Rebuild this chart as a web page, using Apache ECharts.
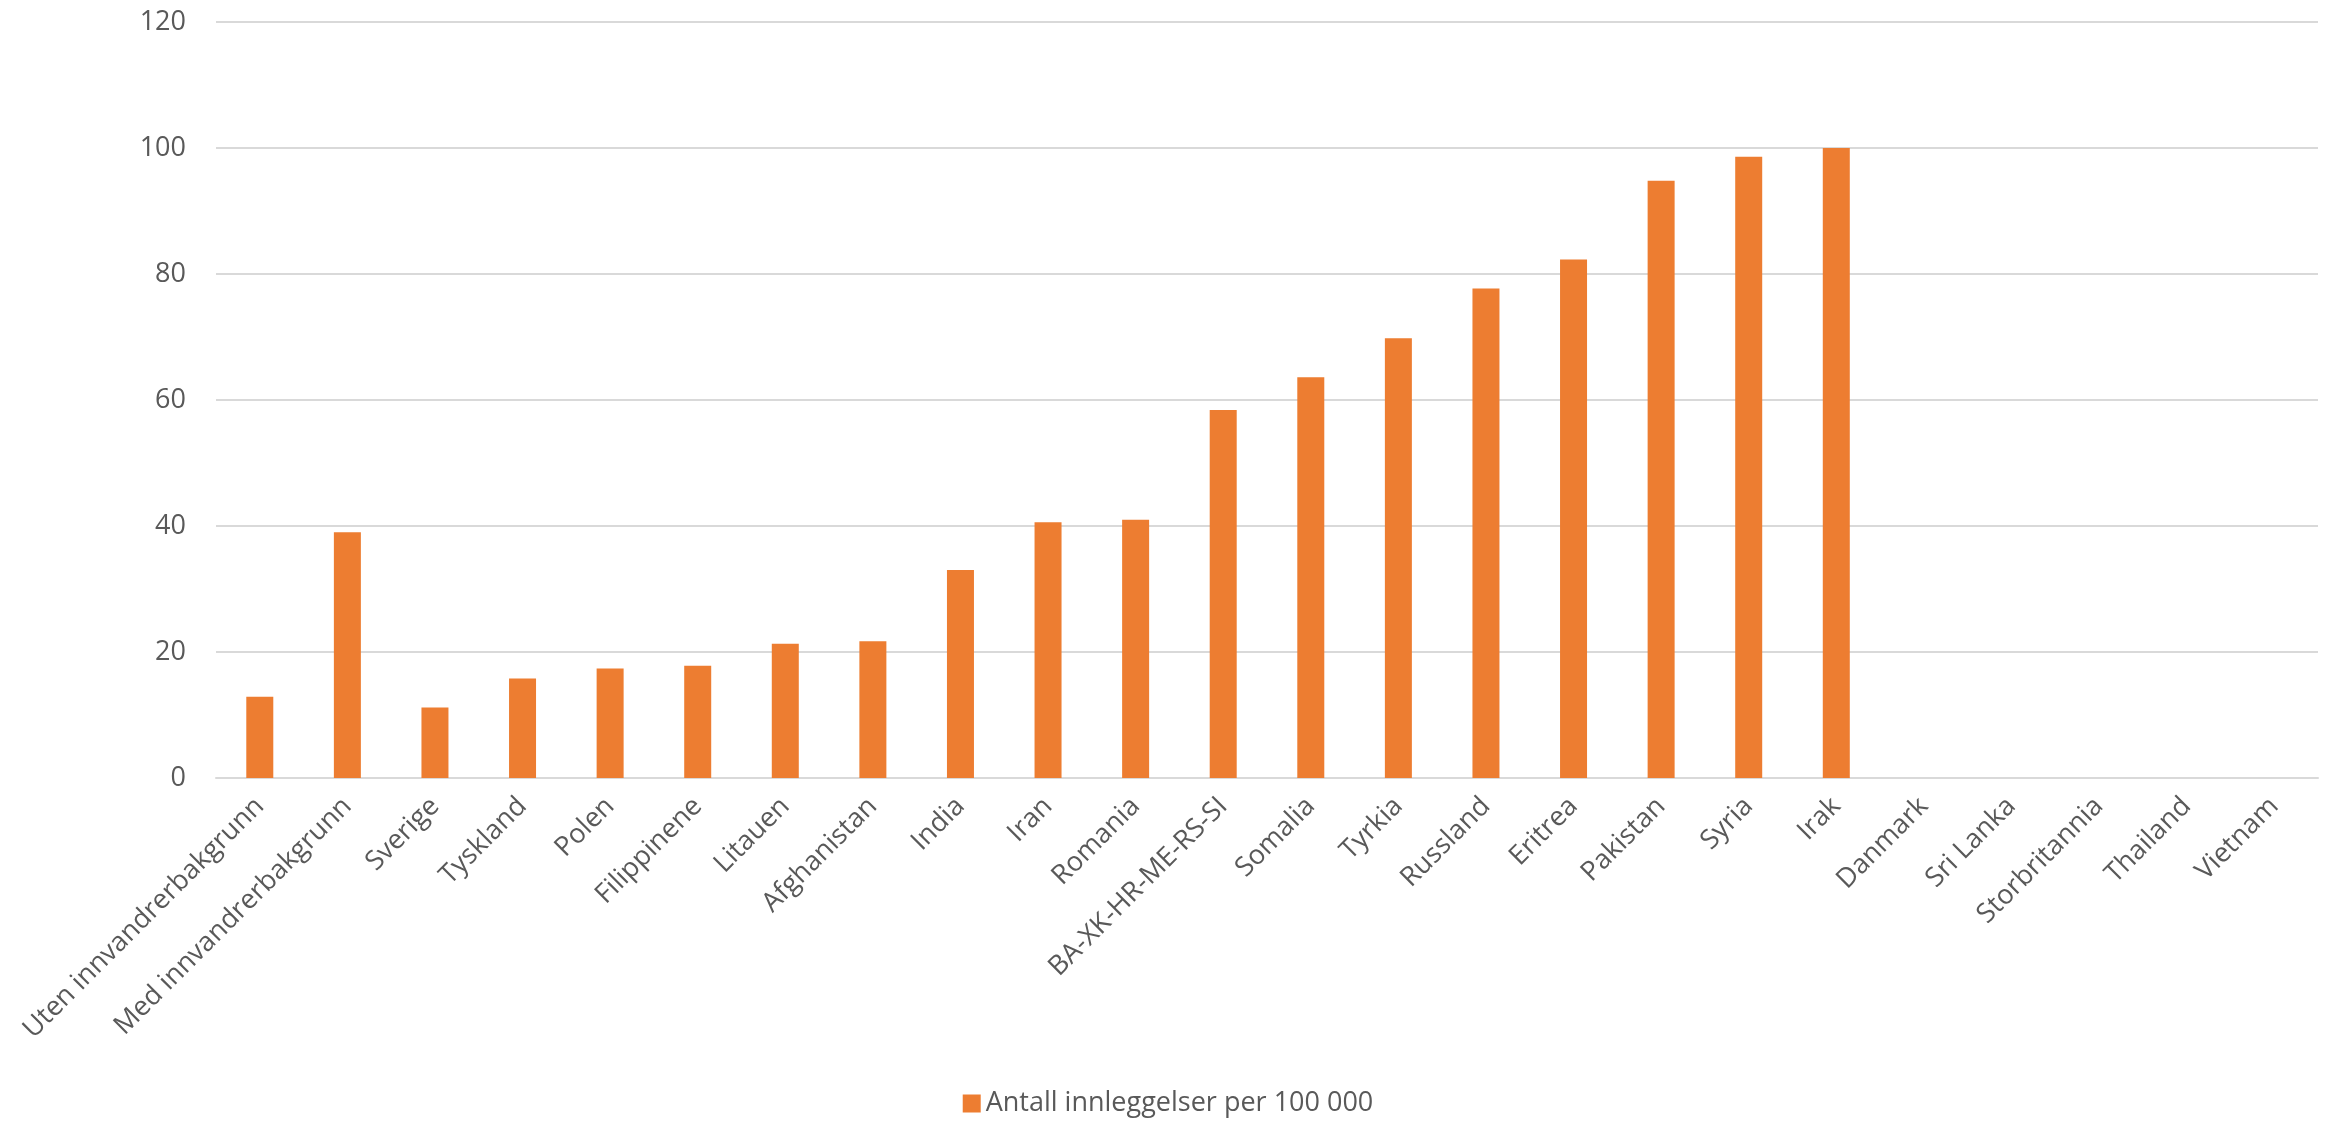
<!DOCTYPE html>
<html>
<head>
<meta charset="utf-8">
<script src="https://cdn.jsdelivr.net/npm/echarts@6/dist/echarts.min.js"></script>
<style>
html,body{margin:0;padding:0;background:#fff;}
#chart{width:2336px;height:1126px;}
</style>
</head>
<body>
<div id="chart"></div>
<script>
const categories = ["Uten innvandrerbakgrunn","Med innvandrerbakgrunn","Sverige","Tyskland","Polen","Filippinene","Litauen","Afghanistan","India","Iran","Romania","BA-XK-HR-ME-RS-SI","Somalia","Tyrkia","Russland","Eritrea","Pakistan","Syria","Irak","Danmark","Sri Lanka","Storbritannia","Thailand","Vietnam"];
const values = [12.9, 39.0, 11.2, 15.8, 17.4, 17.8, 21.3, 21.7, 33.0, 40.6, 41.0, 58.4, 63.6, 69.8, 77.7, 82.3, 94.8, 98.6, 100.0, null, null, null, null, null];
const seriesName = "Antall innleggelser per 100 000";
const yTicks = {min: 0, max: 120, interval: 20};

const FONT = 'Open Sans';
const TXT = '#595959';
const chart = echarts.init(document.getElementById('chart'));
chart.setOption({
  animation: false,
  textStyle: {fontFamily: FONT},
  grid: {left: 216, right: 18, top: 22, bottom: 348, containLabel: false},
  legend: {
    bottom: 4, left: 'center',
    itemWidth: 18, itemHeight: 18, itemGap: 10,
    icon: 'rect',
    textStyle: {fontFamily: FONT, fontSize: 27, color: TXT},
    data: [seriesName]
  },
  xAxis: {
    type: 'category',
    data: categories,
    axisLine: {show: true, lineStyle: {color: '#D9D9D9', width: 2}},
    axisTick: {show: false},
    axisLabel: {rotate: 45, interval: 0, fontFamily: FONT, fontSize: 27, color: TXT, margin: 24}
  },
  yAxis: {
    type: 'value',
    min: yTicks.min, max: yTicks.max, interval: yTicks.interval,
    axisLine: {show: false},
    axisTick: {show: false},
    axisLabel: {fontFamily: FONT, fontSize: 27, color: TXT, margin: 30},
    splitLine: {lineStyle: {color: '#D9D9D9', width: 2}}
  },
  series: [{
    name: seriesName,
    type: 'bar',
    data: values,
    barWidth: 27,
    itemStyle: {color: '#ED7D31'}
  }]
});
</script>
</body>
</html>
